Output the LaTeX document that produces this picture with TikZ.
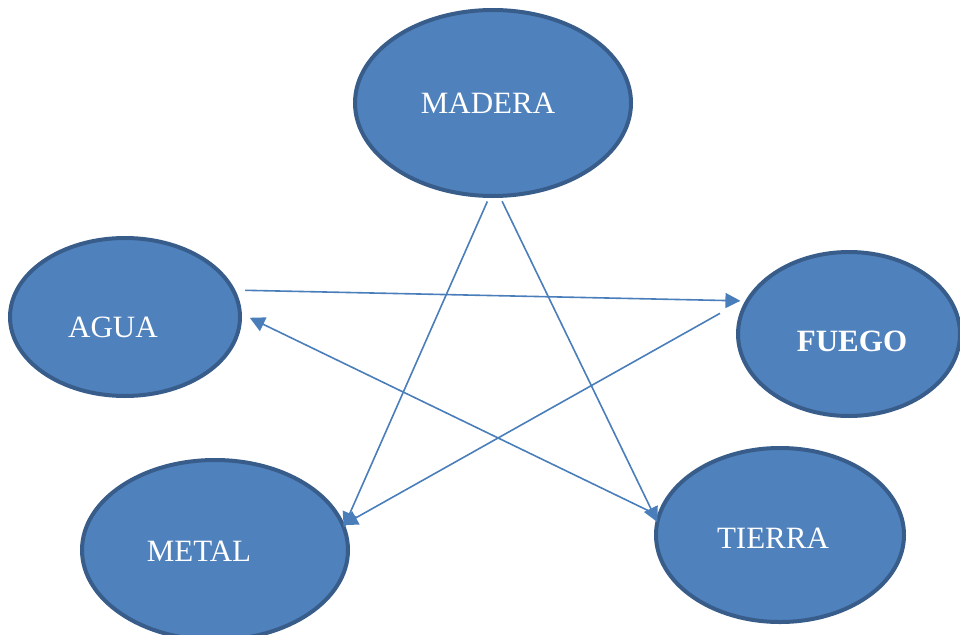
\documentclass[tikz,border=0pt]{standalone}
\usepackage{fontspec}
\setmainfont{Liberation Serif}
\usepackage{xcolor}
\usepackage{tikz}
\usetikzlibrary{arrows.meta,shapes.geometric}
\definecolor{elFill}{HTML}{4F81BD}
\definecolor{elLine}{HTML}{385D8A}
\definecolor{elArrow}{HTML}{4A7EBB}
\tikzset{
  elemNode/.style={
    ellipse,
    draw=elLine,
    fill=elFill,
    line width=4pt,
    inner sep=0pt,
    outer sep=0pt
  },
  elemText/.style={
    text=white,
    font=\fontsize{31}{36}\selectfont,
    inner sep=0pt
  },
  elemArrow/.style={
    -{Triangle[length=15pt,width=15pt]},
    line width=1.6pt,
    draw=elArrow
  }
}

\begin{document}
\begin{tikzpicture}[x=1pt, y=-1pt]
  \useasboundingbox (0,0) rectangle (960,634);
  \clip (0,0) rectangle (960,634);

  \node[elemNode, minimum width=276pt, minimum height=186pt] (madera) at (493,103) {};
  \node[elemNode, minimum width=230pt, minimum height=158pt] (agua) at (125,317) {};
  \node[elemNode, minimum width=222pt, minimum height=164pt] (fuego) at (849,334) {};
  \node[elemNode, minimum width=266pt, minimum height=180pt] (metal) at (215,550) {};
  \node[elemNode, minimum width=248pt, minimum height=174pt] (tierra) at (780,535) {};

  \node[elemText] (maderaTxt) at (488,103) {MADERA};
  \node[elemText] (aguaTxt) at (113,327) {AGUA};
  \node[elemText, font=\fontsize{31}{36}\selectfont\bfseries] (fuegoTxt) at (852,341) {FUEGO};
  \node[elemText] (metalTxt) at (199,551) {METAL};
  \node[elemText] (tierraTxt) at (773,538) {TIERRA};

  \draw[elemArrow, shorten <=12pt, shorten >=7pt] (agua.14) -- (fuego.162);
  \draw[elemArrow, shorten <=35pt] (fuego.159) -- (metal.11);
  \draw[elemArrow, shorten <=6pt] (madera.268) -- (metal.10);
  \draw[elemArrow, shorten <=6pt] (madera.274) -- (tierra.174);
  \draw[elemArrow, shorten <=8pt, shorten >=11pt] (tierra.171) -- (agua.2);
\end{tikzpicture}
\end{document}
